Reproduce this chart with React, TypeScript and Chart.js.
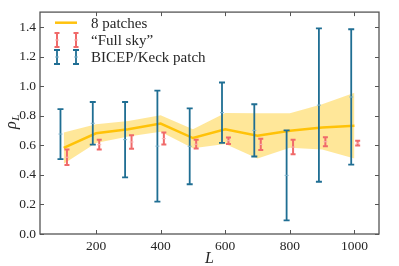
import React, { useEffect, useRef } from 'react';
import { Chart, registerables } from 'chart.js';
Chart.register(...registerables);

// ---- data ----
const patchL = [100, 200, 300, 400, 500, 600, 700, 800, 900, 1000];
const patchMean = [0.584, 0.682, 0.709, 0.748, 0.65, 0.709, 0.665, 0.7, 0.722, 0.733];
const patchHi = [0.687, 0.744, 0.766, 0.805, 0.71, 0.82, 0.818, 0.818, 0.879, 0.956];
const patchLo = [0.475, 0.617, 0.66, 0.693, 0.58, 0.61, 0.512, 0.584, 0.573, 0.512];

const fullSkyL = [110, 210, 310, 410, 510, 610, 710, 810, 910, 1010];
const fullSkyMid = [0.52, 0.605, 0.623, 0.646, 0.608, 0.632, 0.607, 0.589, 0.625, 0.615];
const fullSkyLo = [0.468, 0.573, 0.577, 0.606, 0.579, 0.61, 0.569, 0.54, 0.595, 0.599];
const fullSkyHi = [0.573, 0.638, 0.669, 0.687, 0.638, 0.654, 0.645, 0.638, 0.656, 0.632];

const bkL = [90, 190, 290, 390, 490, 590, 690, 790, 890, 990];
const bkMid = [0.677, 0.75, 0.639, 0.595, 0.594, 0.822, 0.702, 0.397, 0.873, 0.928];
const bkLo = [0.507, 0.606, 0.383, 0.219, 0.337, 0.617, 0.525, 0.092, 0.354, 0.47];
const bkHi = [0.846, 0.894, 0.894, 0.971, 0.851, 1.026, 0.879, 0.702, 1.393, 1.387];

const xTicks = [200, 400, 600, 800, 1000];
const yTicks = [0, 0.2, 0.4, 0.6, 0.8, 1.0, 1.2, 1.4];

const legendLabels = ['8 patches', '\u201cFull sky\u201d', 'BICEP/Keck patch'];

const ORANGE = '#ffc20e';
const BAND = 'rgba(255,196,0,0.40)';
const RED = '#f06a6a';
const RED_LIGHT = '#f8b4b4';
const BLUE = '#1f6e93';
const BLUE_LIGHT = '#7fb3cc';
const FRAME = '#555555';
const TEXT = '#262626';
const SERIF = "'Liberation Serif', serif";

function drawErrBar(ctx: CanvasRenderingContext2D, x: number, y1: number, y2: number, color: string, cap: number, lw: number) {
  ctx.strokeStyle = color;
  ctx.lineWidth = lw;
  ctx.beginPath();
  ctx.moveTo(x, y1);
  ctx.lineTo(x, y2);
  ctx.moveTo(x - cap, y1);
  ctx.lineTo(x + cap, y1);
  ctx.moveTo(x - cap, y2);
  ctx.lineTo(x + cap, y2);
  ctx.stroke();
}

function drawMid(ctx: CanvasRenderingContext2D, x: number, y: number, color: string) {
  ctx.strokeStyle = color;
  ctx.lineWidth = 1;
  ctx.beginPath();
  ctx.moveTo(x - 2, y);
  ctx.lineTo(x + 2, y);
  ctx.stroke();
}

const overlay = {
  id: 'overlay',
  afterDatasetsDraw(chart: any) {
    const ctx = chart.ctx as CanvasRenderingContext2D;
    const xs = chart.scales.x;
    const ys = chart.scales.y;
    ctx.save();
    ctx.lineCap = 'butt';
    bkL.forEach((l, i) => {
      const x = xs.getPixelForValue(l);
      drawErrBar(ctx, x, ys.getPixelForValue(bkHi[i]), ys.getPixelForValue(bkLo[i]), BLUE, 3, 1.8);
      drawMid(ctx, x, ys.getPixelForValue(bkMid[i]), BLUE_LIGHT);
    });
    fullSkyL.forEach((l, i) => {
      const x = xs.getPixelForValue(l);
      drawErrBar(ctx, x, ys.getPixelForValue(fullSkyHi[i]), ys.getPixelForValue(fullSkyLo[i]), RED, 2.5, 2);
      drawMid(ctx, x, ys.getPixelForValue(fullSkyMid[i]), RED_LIGHT);
    });
    ctx.restore();
  },
  afterDraw(chart: any) {
    const ctx = chart.ctx as CanvasRenderingContext2D;
    const { left, right, top, bottom } = chart.chartArea;
    const xs = chart.scales.x;
    const ys = chart.scales.y;
    ctx.save();
    ctx.strokeStyle = FRAME;
    ctx.lineWidth = 1.3;
    ctx.strokeRect(left, top, right - left, bottom - top);
    ctx.lineWidth = 1;
    ctx.beginPath();
    xTicks.forEach((v) => {
      const x = Math.round(xs.getPixelForValue(v)) + 0.5;
      ctx.moveTo(x, bottom);
      ctx.lineTo(x, bottom - 4);
      ctx.moveTo(x, top);
      ctx.lineTo(x, top + 4);
    });
    yTicks.forEach((v) => {
      const y = Math.round(ys.getPixelForValue(v)) + 0.5;
      ctx.moveTo(left, y);
      ctx.lineTo(left + 4, y);
      ctx.moveTo(right, y);
      ctx.lineTo(right - 4, y);
    });
    ctx.stroke();

    ctx.fillStyle = TEXT;
    ctx.textBaseline = 'alphabetic';
    ctx.textAlign = 'center';
    ctx.font = `italic 16px ${SERIF}`;
    ctx.fillText('L', (left + right) / 2, 263);

    ctx.save();
    ctx.translate(16, (top + bottom) / 2 + 6);
    ctx.rotate(-Math.PI / 2);
    ctx.textAlign = 'left';
    ctx.font = `italic 16px ${SERIF}`;
    ctx.fillText('\u03c1', 0, 0);
    const w = ctx.measureText('\u03c1').width;
    ctx.font = `italic 11px ${SERIF}`;
    ctx.fillText('L', w + 0.5, 3);
    ctx.restore();

    const rows = [22.7, 40, 57];
    ctx.lineCap = 'butt';
    ctx.strokeStyle = ORANGE;
    ctx.lineWidth = 2.5;
    ctx.beginPath();
    ctx.moveTo(55, rows[0]);
    ctx.lineTo(77, rows[0]);
    ctx.stroke();
    [57, 76].forEach((x) => {
      drawErrBar(ctx, x, rows[1] - 7, rows[1] + 7, RED, 2.5, 2);
      drawMid(ctx, x, rows[1], RED_LIGHT);
      drawErrBar(ctx, x, rows[2] - 7, rows[2] + 7, BLUE, 3, 1.8);
      drawMid(ctx, x, rows[2], BLUE_LIGHT);
    });
    ctx.fillStyle = TEXT;
    ctx.font = `15px ${SERIF}`;
    ctx.textAlign = 'left';
    ctx.textBaseline = 'middle';
    legendLabels.forEach((t, i) => ctx.fillText(t, 91, rows[i] + 1));
    ctx.restore();
  },
};

export default function App() {
  const ref = useRef<HTMLCanvasElement | null>(null);
  useEffect(() => {
    document.body.style.margin = '0';
    const canvas = ref.current!;
    const chart = new Chart(canvas, {
      type: 'line',
      data: {
        datasets: [
          {
            label: 'lo',
            data: patchL.map((l, i) => ({ x: l, y: patchLo[i] })),
            borderWidth: 0,
            pointRadius: 0,
            fill: false,
            borderColor: 'rgba(0,0,0,0)',
          },
          {
            label: 'hi',
            data: patchL.map((l, i) => ({ x: l, y: patchHi[i] })),
            borderWidth: 0,
            pointRadius: 0,
            fill: '-1',
            backgroundColor: BAND,
            borderColor: 'rgba(0,0,0,0)',
          },
          {
            label: legendLabels[0],
            data: patchL.map((l, i) => ({ x: l, y: patchMean[i] })),
            borderColor: ORANGE,
            borderWidth: 2.5,
            pointRadius: 0,
            fill: false,
            tension: 0,
          },
        ],
      },
      options: {
        responsive: false,
        animation: false,
        events: [],
        layout: { padding: { top: 5, right: 20, left: 0, bottom: 0 }, autoPadding: false },
        plugins: { legend: { display: false }, tooltip: { enabled: false } },
        scales: {
          x: {
            type: 'linear',
            min: 26.6,
            max: 1076,
            grid: { display: false, drawTicks: false },
            border: { display: false },
            afterFit: (s: any) => { s.height = 32; },
            afterBuildTicks: (s: any) => { s.ticks = xTicks.map((v) => ({ value: v })); },
            ticks: {
              padding: 4,
              color: TEXT,
              font: { family: SERIF, size: 13.5 },
              maxRotation: 0,
              callback: (v: any) => String(v),
            },
          },
          y: {
            type: 'linear',
            min: 0,
            max: 1.503,
            grid: { display: false, drawTicks: false },
            border: { display: false },
            afterFit: (s: any) => { s.width = 40; },
            afterBuildTicks: (s: any) => { s.ticks = yTicks.map((v) => ({ value: v })); },
            ticks: {
              padding: 4,
              color: TEXT,
              font: { family: SERIF, size: 13.5 },
              callback: (v: any) => Number(v).toFixed(1),
            },
          },
        },
      },
      plugins: [overlay],
    });
    return () => chart.destroy();
  }, []);
  return <canvas ref={ref} width={399} height={266} style={{ display: 'block' }} />;
}
